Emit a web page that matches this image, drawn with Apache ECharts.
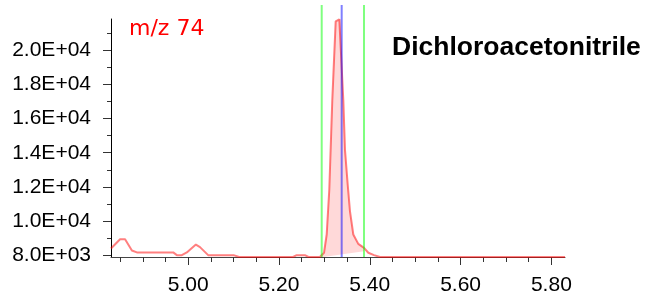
<!DOCTYPE html>
<html>
<head>
<meta charset="utf-8">
<script src="https://cdn.jsdelivr.net/npm/echarts@6/dist/echarts.min.js"></script>
<style>html,body{margin:0;padding:0;background:#fff;}#c{width:650px;height:302px;}</style>
</head>
<body>
<div id="c"></div>
<script>
// ---- data ----
const retentionTimes = [4.830, 4.850, 4.861, 4.876, 4.887, 4.967, 4.975, 4.986, 4.997, 5.017, 5.026, 5.044, 5.100, 5.112, 5.231, 5.239, 5.257, 5.265, 5.290, 5.2941, 5.2992, 5.3051, 5.3108, 5.3174, 5.3249, 5.3329, 5.3360, 5.3417, 5.3454, 5.3514, 5.3564, 5.3637, 5.3747, 5.3873, 5.3967, 5.4093, 5.4225, 5.830];
const intensities    = [8380, 8920, 8920, 8260, 8150, 8150, 7990, 7990, 8150, 8610, 8460, 7990, 7990, 7880, 7880, 7990, 7990, 7880, 7880, 7930, 8130, 9200, 11830, 17080, 21710, 21830, 21850, 17080, 14160, 12120, 10560, 9200, 8650, 8420, 8130, 7990, 7880, 7880];
const integrationBounds = [5.2941, 5.3873];
const baselineValues = [7870, 8220];
const apexTime = 5.3381;
const xMajorTicks = [5.00, 5.20, 5.40, 5.60, 5.80];
const xMinorTicks = [4.85, 4.90, 4.95, 5.05, 5.10, 5.15, 5.25, 5.30, 5.35, 5.45, 5.50, 5.55, 5.65, 5.70, 5.75];
const yMajorTicks = [8000, 10000, 12000, 14000, 16000, 18000, 20000];
const yMinorTicks = [9000, 11000, 13000, 15000, 17000, 19000, 21000];
const ionLabel = 'm/z 74';
const compoundName = 'Dichloroacetonitrile';
const xRange = [4.83, 5.83];
const yRange = [7880, 21850];

// ---- chart ----
const trace = retentionTimes.map((t, i) => [t, intensities[i]]);
const fillPts = trace.filter(p => p[0] >= integrationBounds[0] - 1e-9 && p[0] <= integrationBounds[1] + 1e-9)
  .concat([[integrationBounds[1], baselineValues[1]], [integrationBounds[0], baselineValues[0]]]);

function fmtY(v) {
  const e = Math.floor(Math.log10(v));
  const m = v / Math.pow(10, e);
  return m.toFixed(1) + 'E+' + String(e).padStart(2, '0');
}
const FONT = 'Liberation Sans';
const chart = echarts.init(document.getElementById('c'), null, {renderer: 'canvas'});
const gridPos = {left: 111, right: 85, bottom: 45};
chart.setOption({
  animation: false,
  backgroundColor: '#fff',
  title: [
    {text: ionLabel, left: 124, top: 13, textStyle: {fontFamily: 'DejaVu Sans', fontSize: 22, fontWeight: 'normal', color: '#ff0000'}},
    {text: compoundName, left: 387, top: 29, textStyle: {fontFamily: FONT, fontSize: 26.5, fontWeight: 'bold', color: '#000'}}
  ],
  grid: [
    Object.assign({top: 19}, gridPos),
    Object.assign({top: 5}, gridPos)
  ],
  xAxis: [
    {type: 'value', gridIndex: 0, min: xRange[0], max: xRange[1],
     axisLine: {show: true, onZero: false, lineStyle: {color: '#444', width: 1}},
     axisTick: {show: true, customValues: xMajorTicks, length: 8, lineStyle: {color: '#333'}},
     axisLabel: {show: true, customValues: xMajorTicks, margin: 18, fontFamily: FONT, fontSize: 21, color: '#000', formatter: v => v.toFixed(2)},
     splitLine: {show: false}},
    {type: 'value', gridIndex: 0, min: xRange[0], max: xRange[1], position: 'bottom',
     axisLine: {show: false, onZero: false},
     axisTick: {show: true, customValues: xMinorTicks, length: 5, lineStyle: {color: '#333'}},
     axisLabel: {show: false}, splitLine: {show: false}},
    {type: 'value', gridIndex: 1, min: xRange[0], max: xRange[1], show: false}
  ],
  yAxis: [
    {type: 'value', gridIndex: 0, min: yRange[0], max: yRange[1],
     axisLine: {show: true, onZero: false, lineStyle: {color: '#000', width: 1}},
     axisTick: {show: true, customValues: yMajorTicks, length: 8, lineStyle: {color: '#333'}},
     axisLabel: {show: true, customValues: yMajorTicks, margin: 20, fontFamily: FONT, fontSize: 21, color: '#000', formatter: fmtY},
     splitLine: {show: false}},
    {type: 'value', gridIndex: 0, min: yRange[0], max: yRange[1], position: 'left',
     axisLine: {show: false, onZero: false},
     axisTick: {show: true, customValues: yMinorTicks, length: 4, lineStyle: {color: '#333'}},
     axisLabel: {show: false}, splitLine: {show: false}},
    {type: 'value', gridIndex: 1, min: 0, max: 1, show: false}
  ],
  series: [
    {type: 'custom', xAxisIndex: 0, yAxisIndex: 0, data: [[integrationBounds[0], baselineValues[0]]], z: 1, silent: true,
     renderItem: function (params, api) {
       return {type: 'polygon', shape: {points: fillPts.map(p => api.coord(p))}, style: {fill: 'rgba(255,0,0,0.15)'}};
     }},
    {type: 'line', xAxisIndex: 0, yAxisIndex: 0, data: trace, showSymbol: false, symbol: 'none', z: 3,
     lineStyle: {color: 'rgba(255,0,0,0.5)', width: 2}},
    {type: 'line', xAxisIndex: 2, yAxisIndex: 2, data: [[integrationBounds[0], 0], [integrationBounds[0], 1]], symbol: 'none', z: 4,
     lineStyle: {color: 'rgba(0,255,0,0.5)', width: 2}},
    {type: 'line', xAxisIndex: 2, yAxisIndex: 2, data: [[integrationBounds[1], 0], [integrationBounds[1], 1]], symbol: 'none', z: 4,
     lineStyle: {color: 'rgba(0,255,0,0.5)', width: 2}},
    {type: 'line', xAxisIndex: 2, yAxisIndex: 2, data: [[apexTime, 0], [apexTime, 1]], symbol: 'none', z: 4,
     lineStyle: {color: 'rgba(0,0,255,0.5)', width: 2}}
  ]
});
</script>
</body>
</html>
